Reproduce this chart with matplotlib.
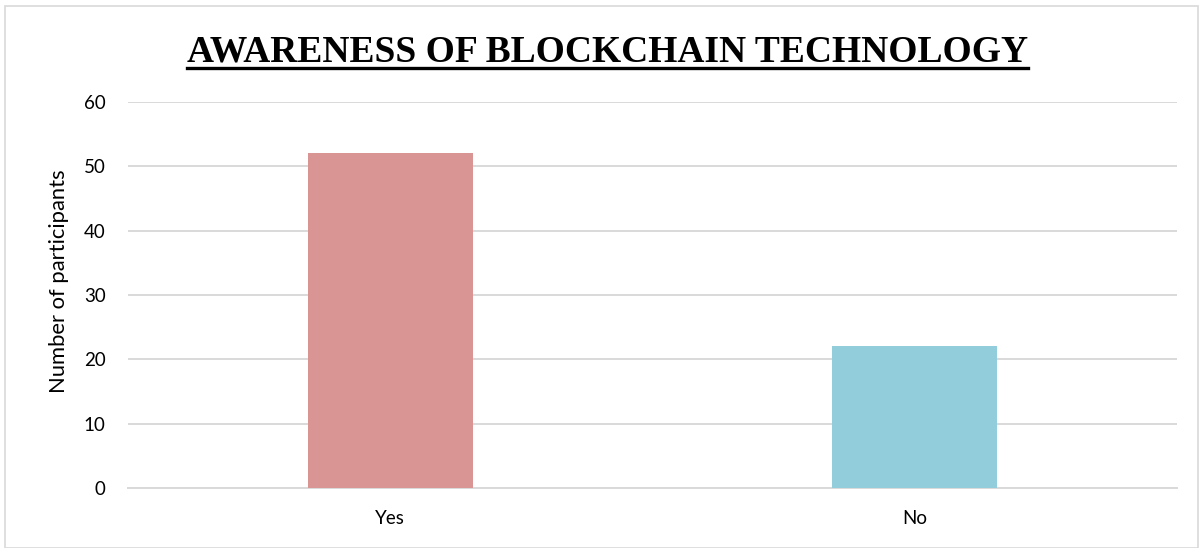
import matplotlib.pyplot as plt
from matplotlib.patches import Rectangle

# Survey responses
answers = ['Yes', 'No']
participants = [52, 22]
bar_colors = ['#D99594', '#92CDDC']
y_ticks = [0, 10, 20, 30, 40, 50, 60]

plt.rcParams['font.family'] = ['Lato', 'DejaVu Sans']

fig = plt.figure(figsize=(12.03, 5.48), dpi=100)
ax = fig.add_axes([128 / 1203, 1 - 488 / 548, (1177 - 128) / 1203, 386 / 548])

x = range(len(answers))
ax.bar(x, participants, width=0.315, color=bar_colors, zorder=3)

ax.set_xlim(-0.5, len(answers) - 0.5)
ax.set_ylim(0, 60)
ax.set_yticks(y_ticks)
ax.set_xticks(list(x))
ax.set_xticklabels(answers)
ax.tick_params(axis='both', length=0, labelsize=13.5, colors='#000000')
ax.tick_params(axis='y', pad=16)
ax.tick_params(axis='x', pad=16)
ax.grid(axis='y', color='#D9D9D9', linewidth=1.4, zorder=0)
for side in ['top', 'right', 'left']:
    ax.spines[side].set_visible(False)
ax.spines['bottom'].set_color('#D9D9D9')
ax.spines['bottom'].set_linewidth(1.4)

ax.set_ylabel('Number of participants', fontsize=15.8)
ax.yaxis.set_label_coords(-0.056, 0.535)

# Title with underline
title = fig.text(0.505, 1 - 62 / 548, 'AWARENESS OF BLOCKCHAIN TECHNOLOGY',
                 ha='center', va='baseline', fontsize=27, fontweight='bold',
                 family=['Liberation Serif'])
fig.canvas.draw()
bb = title.get_window_extent()
uy = 1 - 68 / 548
fig.add_artist(plt.Line2D([bb.x0 / 1203, bb.x1 / 1203], [uy, uy],
                          transform=fig.transFigure, color='black', linewidth=2.4))

# Outer frame
fig.add_artist(Rectangle((5 / 1203, 0), 1 - 10 / 1203, 1 - 6 / 548,
                         transform=fig.transFigure, fill=False,
                         edgecolor='#D9D9D9', linewidth=1.2))

fig.savefig('out.png', dpi=100)
